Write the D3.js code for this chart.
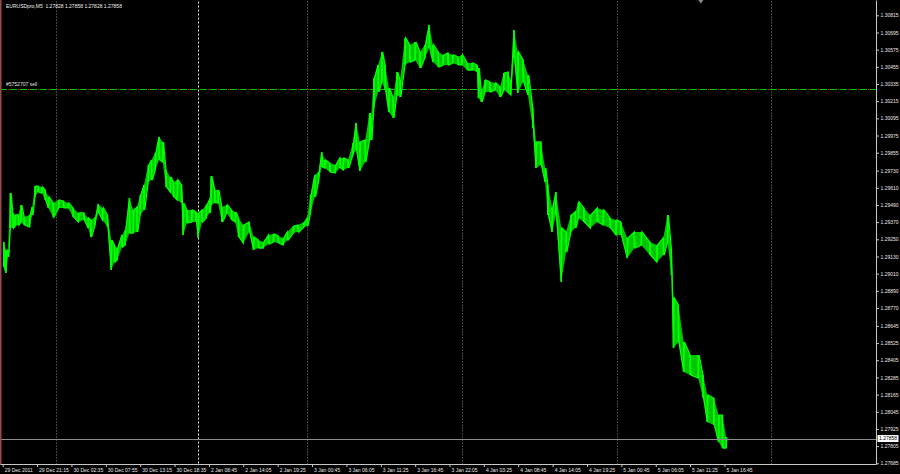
<!DOCTYPE html>
<html><head><meta charset="utf-8">
<script src="https://cdn.jsdelivr.net/npm/d3@7/dist/d3.min.js"></script>
<style>html,body{margin:0;padding:0;background:#000;}svg{display:block;}</style>
</head><body>
<svg id="c" width="900" height="474"></svg>
<script>
// ---- DATA ----
const title = "EURUSDpro,M5  1.27828 1.27858 1.27828 1.27858";
// bar index (M5 bars from 29 Dec 2011 15:55) of each sampled bar
const barIndex = [2,6,10,14,19,23,29,34,40,50,55,60,66,73,79,85,94,104,113,122,131,141,151,159,164,172,178,186,195,202,208,213,222,228,236,243,250,256,263,271,277,284,291,298,304,312,318,325,333,336,343,352,360,364,371,379,385,388,395,401,408,417,426,433,439,448,459,467,476,485,495,504,513,522,530,541,550,561,567,573,581,588,594,600,609,619,628,634,643,652,658,665,675,683,686,691,699,706,712,719,727,734,740,749,758,768,777,786,794,801,811,820,829,838,848,855,865,874,883,886,891,898,907,917,926,933,941,946,952,959,969,978,987,993,1002,1010,1015,1023,1030,1040,1049,1058,1066,1072,1082,1094,1107,1118,1131,1142,1151,1163,1176,1189,1205,1218,1230,1238,1245,1249,1258,1268,1280,1295,1304,1312,1324,1333,1340,1347];
const highs = [1.29231,1.29175,1.29175,1.29573,1.29434,1.29420,1.29420,1.29490,1.29406,1.29420,1.29476,1.29622,1.29622,1.29615,1.29594,1.29546,1.29504,1.29525,1.29518,1.29504,1.29469,1.29434,1.29434,1.29399,1.29385,1.29406,1.29497,1.29469,1.29420,1.29245,1.29210,1.29189,1.29280,1.29315,1.29539,1.29455,1.29476,1.29560,1.29629,1.29769,1.29804,1.29853,1.29965,1.29930,1.29734,1.29685,1.29650,1.29664,1.29629,1.29504,1.29455,1.29455,1.29441,1.29434,1.29455,1.29490,1.29525,1.29692,1.29594,1.29594,1.29476,1.29490,1.29455,1.29441,1.29399,1.29350,1.29371,1.29266,1.29245,1.29231,1.29280,1.29287,1.29273,1.29259,1.29301,1.29343,1.29350,1.29371,1.29399,1.29560,1.29699,1.29720,1.29860,1.29804,1.29783,1.29769,1.29818,1.29818,1.29804,1.29923,1.30063,1.29930,1.29944,1.30132,1.30097,1.30377,1.30468,1.30559,1.30468,1.30307,1.30237,1.30419,1.30363,1.30656,1.30608,1.30628,1.30559,1.30608,1.30747,1.30608,1.30559,1.30538,1.30552,1.30538,1.30524,1.30538,1.30482,1.30482,1.30468,1.30447,1.30279,1.30363,1.30349,1.30342,1.30314,1.30412,1.30419,1.30363,1.30712,1.30559,1.30503,1.30398,1.30167,1.29930,1.29930,1.29748,1.29629,1.29469,1.29580,1.29329,1.29301,1.29420,1.29441,1.29511,1.29469,1.29420,1.29469,1.29455,1.29399,1.29385,1.29371,1.29259,1.29301,1.29301,1.29231,1.29210,1.29259,1.29420,1.29189,1.28840,1.28791,1.28532,1.28442,1.28442,1.28302,1.28162,1.28141,1.28022,1.28022,1.27869];
const lows = [1.29056,1.29015,1.29126,1.29329,1.29329,1.29343,1.29350,1.29371,1.29350,1.29336,1.29420,1.29546,1.29580,1.29573,1.29525,1.29469,1.29406,1.29469,1.29469,1.29469,1.29406,1.29371,1.29385,1.29329,1.29266,1.29350,1.29434,1.29385,1.29336,1.29036,1.29091,1.29105,1.29196,1.29210,1.29294,1.29294,1.29301,1.29420,1.29455,1.29650,1.29664,1.29734,1.29804,1.29790,1.29615,1.29580,1.29546,1.29525,1.29504,1.29280,1.29364,1.29371,1.29371,1.29259,1.29371,1.29399,1.29434,1.29490,1.29504,1.29504,1.29371,1.29434,1.29385,1.29371,1.29266,1.29224,1.29301,1.29175,1.29189,1.29189,1.29217,1.29231,1.29224,1.29210,1.29245,1.29294,1.29301,1.29336,1.29343,1.29434,1.29546,1.29650,1.29755,1.29748,1.29720,1.29713,1.29748,1.29734,1.29748,1.29839,1.29874,1.29727,1.29790,1.29944,1.29944,1.30167,1.30279,1.30349,1.30293,1.30139,1.30097,1.30258,1.30244,1.30468,1.30489,1.30503,1.30447,1.30517,1.30587,1.30489,1.30454,1.30468,1.30468,1.30482,1.30468,1.30468,1.30433,1.30433,1.30419,1.30237,1.30209,1.30279,1.30279,1.30293,1.30244,1.30293,1.30272,1.30258,1.30517,1.30272,1.30349,1.30258,1.30028,1.29748,1.29769,1.29650,1.29420,1.29301,1.29420,1.28952,1.29161,1.29301,1.29329,1.29399,1.29371,1.29329,1.29371,1.29350,1.29329,1.29280,1.29280,1.29119,1.29189,1.29210,1.29140,1.29091,1.29140,1.29231,1.29001,1.28491,1.28532,1.28323,1.28302,1.28281,1.28141,1.27973,1.27953,1.27834,1.27792,1.27792];
const lastPrice = 1.27858;
const orderPrice = 1.30302;
const orderLabel = "#5752707 sell";
const priceTicks = [1.30815,1.30695,1.30575,1.30455,1.30335,1.30215,1.30095,1.29975,1.29855,1.29730,1.29610,1.29490,1.29370,1.29250,1.29130,1.29010,1.28890,1.28770,1.28645,1.28525,1.28405,1.28285,1.28165,1.28045,1.27925,1.27805,1.27685];
const timeTickLabels = ["29 Dec 2011","29 Dec 21:15","30 Dec 02:35","30 Dec 07:55","30 Dec 13:15","30 Dec 18:35","2 Jan 08:45","2 Jan 14:05","2 Jan 19:25","3 Jan 00:45","3 Jan 06:05","3 Jan 11:25","3 Jan 16:45","3 Jan 22:05","4 Jan 03:25","4 Jan 08:45","4 Jan 14:05","4 Jan 19:25","5 Jan 00:45","5 Jan 06:05","5 Jan 11:25","5 Jan 16:45"];
const barsPerTimeTick = 64;
const daySeparators = [99, 363, 567, 855, 1143, 1431];
const chartShiftBar = 1300;

// ---- LAYOUT ----
const W = 900, H = 474;
const plotRight = 876.5, plotBottom = 464.5, plotTop = 0.5;
const svg = d3.select("#c");
const FONT = "'Liberation Sans', Arial, sans-serif";

const x = d3.scaleLinear().domain([0, 1431]).range([2.7, 771.2]);
const y = d3.scaleLinear().domain([1.27685, 1.30815]).range([463.3, 15.3]);

svg.append("rect").attr("width", W).attr("height", H).attr("fill", "#000");

const plot = svg.append("g");

// day separators
plot.selectAll("line.sep").data(daySeparators).enter().append("line")
  .attr("x1", d => Math.round(x(d)) + 0.5).attr("x2", d => Math.round(x(d)) + 0.5)
  .attr("y1", plotTop + 1).attr("y2", plotBottom)
  .attr("stroke", (d, i) => i === 1 ? "#f0f0f0" : "#858585")
  .attr("stroke-width", 1)
  .attr("stroke-dasharray", (d, i) => i === 1 ? "2,2" : "1,2");

// order line (dash-dot)
const oy = Math.round(y(orderPrice)) + 0.5;
plot.append("line")
  .attr("x1", 0).attr("x2", plotRight).attr("y1", oy).attr("y2", oy)
  .attr("stroke", "#00c800").attr("stroke-width", 1.2).attr("stroke-dasharray", "7,3");
plot.append("line")
  .attr("x1", 0).attr("x2", plotRight).attr("y1", oy).attr("y2", oy)
  .attr("stroke", "#d01010").attr("stroke-width", 1.2).attr("stroke-dasharray", "0,8,1.5,0.5");
plot.append("text").attr("x", 6).attr("y", y(orderPrice) - 2.5)
  .attr("fill", "#e0e0e0").attr("font-family", FONT).attr("font-size", 5).text(orderLabel);

// price series
const bars = barIndex.map((b, i) => ({b, h: highs[i], l: lows[i]}));
const area = d3.area().x(d => x(d.b)).y0(d => y(d.l)).y1(d => y(d.h));
plot.append("path").datum(bars).attr("d", area)
  .attr("fill", "#00c400").attr("stroke", "none");
// jagged trace through the sampled bars' high/low
const zig = [];
bars.forEach((d, i) => {
  if (i % 2 === 0) { zig.push([x(d.b), y(d.h)]); zig.push([x(d.b) + 0.8, y(d.l)]); }
  else { zig.push([x(d.b), y(d.l)]); zig.push([x(d.b) + 0.8, y(d.h)]); }
});
plot.append("path").attr("d", d3.line()(zig))
  .attr("fill", "none").attr("stroke", "#00ff00").attr("stroke-width", 1.3).attr("stroke-linejoin", "miter");
plot.selectAll("line.bar").data(bars).enter().append("line")
  .attr("x1", d => x(d.b)).attr("x2", d => x(d.b))
  .attr("y1", d => y(d.h)).attr("y2", d => y(d.l))
  .attr("stroke", "#00ff00").attr("stroke-width", 1.5);

// last price line
plot.append("line").attr("x1", 0).attr("x2", plotRight)
  .attr("y1", Math.round(y(lastPrice)) + 0.5).attr("y2", Math.round(y(lastPrice)) + 0.5)
  .attr("stroke", "#8c8c8c").attr("stroke-width", 1);

// frame
svg.append("path")
  .attr("d", `M${plotRight},${plotTop}V${plotBottom}H0`)
  .attr("fill", "none").attr("stroke", "#c8c8c8").attr("stroke-width", 1);
// left border
svg.append("rect").attr("x", 0).attr("y", 0).attr("width", 1.5).attr("height", plotBottom)
  .attr("fill", "#9a4a4a");
// chart shift marker
const sx = x(chartShiftBar);
svg.append("path").attr("d", `M${sx - 2.5},0H${sx + 2.5}L${sx},3.5Z`).attr("fill", "#8c8c8c");

// price axis
const yAxis = d3.axisRight(y).tickValues(priceTicks).tickSize(2.5).tickPadding(1.5)
  .tickFormat(d3.format(".5f"));
const ya = svg.append("g").attr("transform", `translate(${plotRight},0)`).call(yAxis);
ya.select(".domain").remove();
ya.selectAll("line").attr("stroke", "#c8c8c8");
ya.selectAll("text").attr("fill", "#e8e8e8").attr("font-family", FONT).attr("font-size", 5);

// last price box
const lp = svg.append("g").attr("transform", `translate(${plotRight},${y(lastPrice)})`);
lp.append("rect").attr("x", 1).attr("y", -3.5).attr("width", 21).attr("height", 7).attr("fill", "#ffffff");
lp.append("text").attr("x", 2.5).attr("y", 1.8).attr("fill", "#000").attr("font-family", FONT)
  .attr("font-size", 5).text(d3.format(".5f")(lastPrice));

// time axis
const timeTicks = timeTickLabels.map((t, i) => i * barsPerTimeTick);
const xAxis = d3.axisBottom(x).tickValues(timeTicks).tickSize(2.5).tickPadding(0)
  .tickFormat((d, i) => timeTickLabels[i]);
const xa = svg.append("g").attr("transform", `translate(0,${plotBottom})`).call(xAxis);
xa.select(".domain").remove();
xa.selectAll("line").attr("stroke", "#c8c8c8");
xa.selectAll("text").attr("fill", "#e8e8e8").attr("font-family", FONT).attr("font-size", 5)
  .attr("text-anchor", "start").attr("dx", 1.5).attr("dy", 0).attr("y", 7);

// title
svg.append("text").attr("x", 6).attr("y", 7.5).attr("fill", "#f0f0f0")
  .attr("font-family", FONT).attr("font-size", 5).attr("xml:space", "preserve").text(title);
</script>
</body></html>
